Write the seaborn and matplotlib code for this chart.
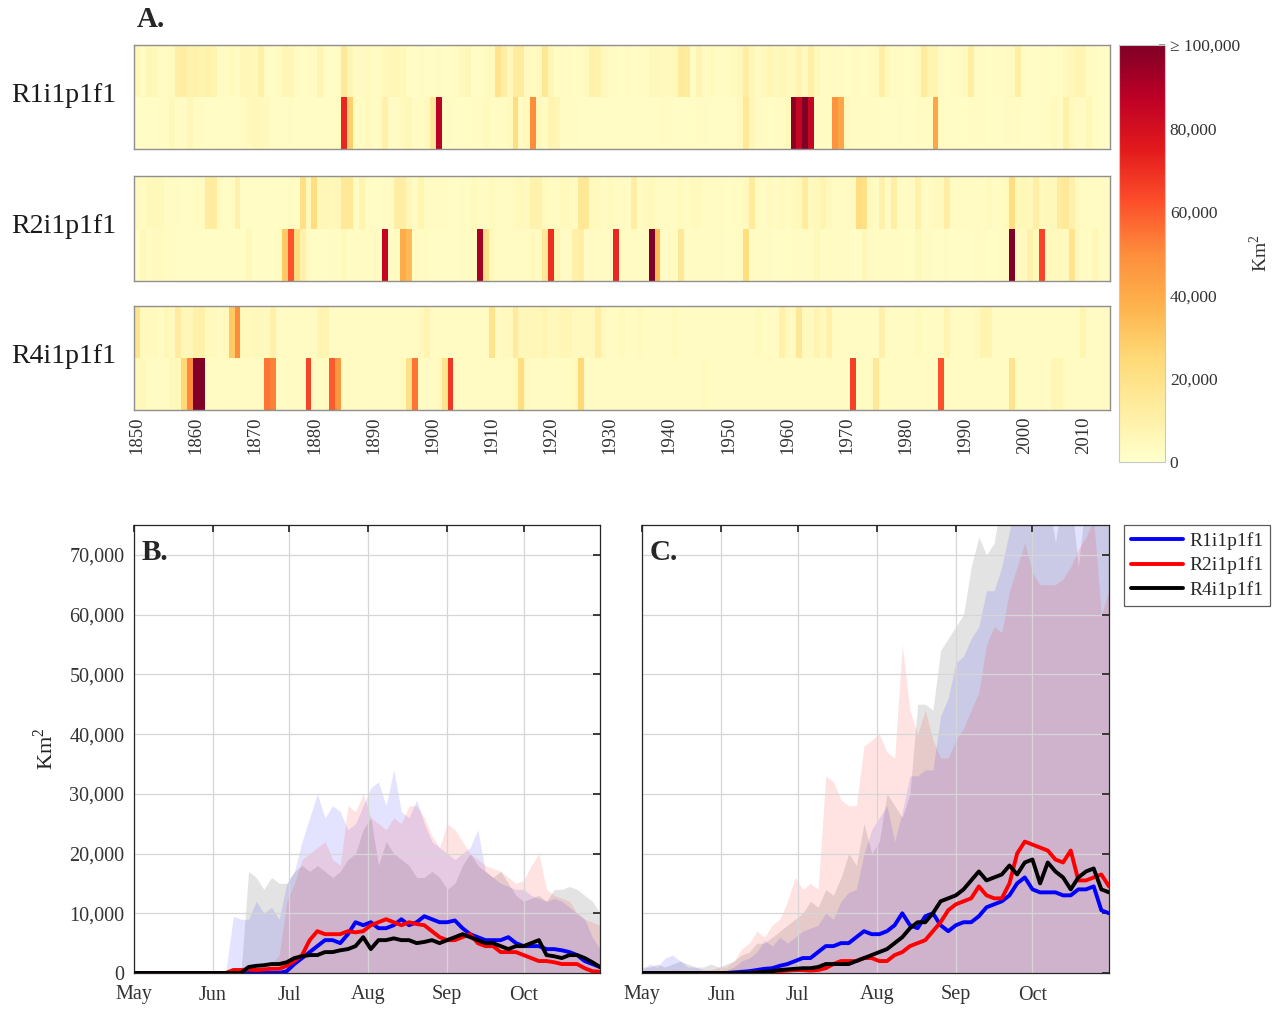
import numpy as np
import pandas as pd
import matplotlib
matplotlib.use("Agg")
import matplotlib.pyplot as plt
from matplotlib.lines import Line2D
from matplotlib.ticker import MultipleLocator
import seaborn as sns

sns.set_theme(style="white")
plt.rcParams["font.family"] = ["Liberation Serif", "DejaVu Serif"]
plt.rcParams["mathtext.fontset"] = "custom"
plt.rcParams["mathtext.rm"] = "Liberation Serif"

runs = ["R1i1p1f1", "R2i1p1f1", "R4i1p1f1"]
run_colors = ["#0000ff", "#ff0000", "#000000"]

# ---------------------------------------------------------------- panel A
years = np.arange(1850, 2015)

# annual burned area per run, thousands of km2 (upper and lower strip)
r1_top = [
    6, 3, 6, 5, 3, 3, 4, 12, 12, 9,
    9, 8, 10, 8, 3, 3, 4, 3, 6, 6,
    5, 10, 3, 2, 3, 7, 6, 3, 2, 3,
    3, 8, 2, 2, 3, 15, 7, 3, 3, 4,
    3, 3, 4, 6, 6, 5, 2, 2, 3, 2,
    2, 3, 2, 2, 3, 5, 6, 2, 2, 3,
    4, 18, 12, 5, 13, 14, 4, 3, 4, 16,
    6, 3, 3, 3, 2, 3, 4, 9, 9, 4,
    3, 3, 2, 3, 2, 3, 3, 5, 5, 4,
    4, 5, 14, 13, 3, 8, 3, 4, 3, 3,
    3, 4, 6, 12, 6, 3, 5, 7, 4, 6,
    4, 4, 8, 4, 12, 5, 3, 3, 3, 3,
    2, 3, 3, 2, 3, 4, 12, 5, 3, 3,
    2, 3, 4, 14, 8, 8, 3, 2, 3, 3,
    4, 12, 3, 3, 2, 3, 3, 3, 4, 12,
    3, 2, 2, 3, 3, 2, 3, 4, 6, 8,
    8, 3, 3, 2, 2,
]
r1_bottom = [
    2, 2, 2, 2, 3, 3, 5, 3, 3, 6,
    3, 3, 2, 2, 2, 2, 2, 2, 3, 4,
    6, 5, 4, 2, 2, 2, 3, 2, 2, 2,
    2, 2, 2, 2, 3, 72, 28, 3, 3, 4,
    3, 3, 10, 3, 3, 4, 6, 3, 3, 4,
    15, 88, 3, 3, 2, 2, 2, 3, 3, 4,
    3, 3, 3, 4, 22, 3, 4, 50, 5, 3,
    8, 7, 3, 3, 3, 2, 2, 2, 2, 2,
    2, 2, 2, 2, 2, 2, 2, 2, 2, 3,
    3, 2, 2, 2, 2, 3, 3, 2, 2, 2,
    2, 2, 4, 15, 6, 3, 3, 2, 3, 3,
    4, 98, 85, 100, 85, 3, 3, 3, 48, 42,
    4, 3, 3, 3, 3, 3, 2, 2, 2, 3,
    2, 2, 3, 3, 3, 42, 3, 2, 2, 2,
    2, 3, 3, 3, 2, 2, 2, 3, 3, 3,
    2, 2, 2, 3, 3, 4, 3, 10, 4, 3,
    3, 6, 3, 2, 2,
]
r2_top = [
    4, 3, 5, 5, 5, 3, 3, 3, 2, 2,
    3, 3, 13, 13, 3, 2, 3, 10, 2, 2,
    2, 2, 2, 2, 2, 2, 3, 2, 20, 5,
    22, 6, 6, 5, 6, 15, 15, 3, 8, 3,
    2, 2, 3, 3, 12, 12, 6, 3, 8, 3,
    3, 3, 3, 2, 2, 3, 3, 4, 3, 3,
    4, 3, 3, 3, 4, 5, 4, 9, 9, 4,
    3, 3, 4, 4, 3, 16, 16, 4, 4, 3,
    4, 3, 3, 3, 12, 3, 4, 5, 3, 3,
    3, 3, 4, 3, 4, 4, 3, 3, 3, 3,
    2, 3, 3, 4, 14, 3, 3, 4, 3, 4,
    3, 4, 5, 13, 4, 5, 8, 4, 3, 3,
    3, 4, 22, 20, 4, 3, 10, 3, 12, 3,
    3, 3, 10, 3, 3, 4, 4, 12, 3, 3,
    3, 3, 3, 3, 4, 3, 3, 4, 22, 5,
    6, 5, 12, 4, 5, 5, 14, 15, 10, 4,
    3, 3, 3, 3, 3,
]
r2_bottom = [
    2, 5, 3, 4, 4, 3, 3, 2, 2, 2,
    2, 2, 2, 2, 2, 2, 2, 2, 2, 5,
    2, 2, 2, 2, 3, 30, 62, 22, 10, 3,
    2, 2, 2, 3, 3, 5, 3, 3, 3, 3,
    3, 3, 85, 3, 3, 40, 35, 3, 3, 3,
    2, 2, 2, 2, 2, 3, 3, 3, 92, 20,
    4, 3, 3, 3, 3, 3, 3, 4, 3, 15,
    70, 8, 3, 3, 10, 12, 3, 3, 3, 3,
    3, 72, 3, 3, 3, 3, 3, 100, 35, 3,
    3, 3, 15, 3, 3, 3, 3, 3, 3, 3,
    2, 2, 3, 22, 3, 3, 3, 3, 2, 2,
    2, 3, 3, 3, 3, 5, 3, 3, 3, 3,
    3, 2, 2, 6, 3, 3, 3, 3, 3, 3,
    2, 2, 5, 3, 3, 2, 2, 3, 2, 2,
    2, 2, 3, 3, 2, 2, 3, 3, 100, 4,
    4, 10, 5, 65, 4, 4, 4, 4, 18, 4,
    3, 3, 6, 3, 3,
]
r4_top = [
    18, 4, 4, 4, 3, 6, 4, 13, 6, 6,
    10, 10, 4, 4, 3, 4, 30, 50, 5, 4,
    5, 5, 4, 10, 3, 3, 3, 3, 3, 3,
    3, 8, 8, 3, 3, 3, 3, 3, 3, 3,
    3, 3, 3, 3, 3, 3, 3, 3, 4, 8,
    3, 3, 3, 3, 3, 3, 3, 3, 3, 3,
    18, 3, 4, 4, 14, 6, 6, 6, 6, 8,
    5, 5, 7, 7, 4, 4, 4, 4, 12, 4,
    3, 3, 4, 3, 3, 4, 3, 3, 3, 3,
    3, 4, 3, 3, 3, 3, 3, 3, 3, 3,
    3, 3, 3, 3, 3, 4, 3, 3, 3, 10,
    4, 3, 16, 4, 4, 8, 4, 10, 3, 3,
    3, 3, 3, 3, 3, 3, 10, 3, 3, 3,
    3, 3, 4, 3, 3, 3, 3, 8, 3, 3,
    3, 3, 4, 8, 8, 3, 3, 3, 3, 3,
    3, 3, 3, 3, 3, 3, 3, 3, 3, 3,
    8, 3, 3, 3, 3,
]
r4_bottom = [
    5, 5, 3, 3, 3, 3, 5, 5, 25, 50,
    100, 100, 3, 3, 3, 3, 3, 3, 3, 3,
    3, 3, 55, 52, 3, 3, 3, 3, 3, 65,
    3, 3, 3, 60, 47, 3, 3, 3, 3, 3,
    3, 3, 3, 3, 3, 4, 20, 55, 3, 3,
    3, 4, 18, 68, 3, 3, 3, 3, 3, 3,
    3, 3, 3, 3, 4, 22, 4, 3, 3, 3,
    3, 3, 3, 3, 4, 25, 3, 3, 3, 3,
    3, 3, 3, 3, 3, 3, 3, 3, 3, 3,
    3, 3, 3, 3, 3, 3, 4, 3, 3, 3,
    3, 3, 3, 3, 3, 3, 3, 3, 3, 3,
    3, 3, 3, 3, 3, 3, 3, 3, 3, 3,
    3, 66, 3, 3, 3, 15, 3, 3, 3, 3,
    3, 3, 3, 3, 3, 3, 62, 3, 3, 3,
    3, 3, 3, 3, 3, 3, 3, 3, 18, 3,
    3, 3, 3, 3, 3, 7, 7, 3, 3, 3,
    3, 3, 3, 3, 3,
]

# ------------------------------------------------------- panels B and C
# values every third day from 1 May (day 0) to 31 Oct (day 183), km2
month_starts = [0, 31, 61, 92, 123, 153]
month_names = ["May", "Jun", "Jul", "Aug", "Sep", "Oct"]

b_r1_line = [
    0, 0, 0, 0, 0, 0, 0, 0, 0, 0,
    0, 0, 0, 0, 0, 0, 0, 0, 0, 0,
    300, 1500, 2500, 3500, 4500, 5500, 5500, 5000, 6500, 8500,
    8000, 8500, 7500, 7500, 8000, 9000, 8000, 8500, 9500, 9000,
    8500, 8500, 8800, 7500, 6500, 6000, 5500, 5500, 5500, 6000,
    5000, 4500, 4500, 4500, 4000, 4000, 3800, 3500, 3000, 2000,
    1500, 1000,
]
b_r2_line = [
    0, 0, 0, 0, 0, 0, 0, 0, 0, 0,
    0, 0, 0, 500, 500, 600, 500, 600, 700, 700,
    1200, 2000, 3000, 5500, 7000, 6500, 6500, 6500, 7000, 6800,
    7000, 8000, 8500, 9000, 8500, 8000, 8500, 8200, 8000, 7000,
    6000, 5500, 5500, 6000, 6500, 5000, 4500, 4500, 3500, 3500,
    3500, 3000, 2500, 2000, 2000, 1800, 1500, 1500, 1500, 800,
    300, 200,
]
b_r4_line = [
    0, 0, 0, 0, 0, 0, 0, 0, 0, 0,
    0, 0, 0, 0, 0, 1000, 1200, 1300, 1500, 1500,
    1800, 2500, 2800, 3000, 3000, 3500, 3500, 3800, 4000, 4500,
    6000, 4000, 5500, 5500, 5800, 5500, 5500, 5000, 5200, 5500,
    5000, 5500, 6000, 6500, 6000, 5500, 5000, 5000, 4500, 4000,
    4500, 4500, 5000, 5500, 3000, 2800, 2500, 3000, 3000, 2500,
    1800, 1000,
]
b_r1_upper = [
    0, 0, 0, 0, 0, 0, 0, 0, 0, 0,
    0, 0, 0, 9500, 9000, 9000, 12000, 10000, 11000, 9000,
    15000, 17000, 22000, 26000, 30000, 26000, 28000, 27000, 24000, 25000,
    28000, 31000, 32000, 28000, 34000, 27000, 26000, 29000, 25000, 22000,
    21000, 20000, 19000, 20000, 21000, 24000, 17000, 16000, 15000, 14500,
    14000, 14000, 13000, 12500, 12000, 12500, 12000, 11000, 10000, 9000,
    6000, 4000,
]
b_r2_upper = [
    0, 0, 0, 0, 0, 0, 0, 0, 0, 0,
    0, 0, 0, 500, 600, 800, 800, 1000, 1500, 3000,
    12000, 15000, 19000, 20000, 21000, 22000, 19000, 18000, 28000, 27000,
    30000, 26000, 25000, 24000, 26000, 25000, 28000, 28000, 26000, 23000,
    21000, 25000, 24000, 22000, 20000, 19000, 18000, 17500, 17000, 16000,
    15000, 15500, 18000, 20000, 14000, 13000, 12500, 12000, 10000, 9000,
    8500, 8000,
]
b_r4_upper = [
    0, 0, 0, 0, 0, 0, 0, 0, 0, 0,
    0, 0, 0, 0, 0, 17000, 16000, 14000, 16000, 15000,
    15000, 17000, 18000, 17000, 18000, 17000, 16000, 17000, 19000, 20000,
    24000, 26000, 18000, 22000, 20000, 19000, 18000, 16000, 16000, 17000,
    16000, 14000, 15000, 18000, 20000, 18000, 17000, 16000, 17000, 15000,
    13000, 12000, 12500, 13000, 12000, 14000, 14000, 14500, 14000, 13000,
    12000, 10000,
]

c_r1_line = [
    0, 0, 0, 0, 0, 0, 0, 0, 0, 0,
    0, 0, 100, 200, 300, 500, 700, 800, 1200, 1500,
    2000, 2500, 2500, 3500, 4500, 4500, 5000, 5000, 6000, 7000,
    6500, 6500, 7000, 8000, 10000, 8000, 7500, 9500, 10000, 8000,
    7000, 8000, 8500, 8500, 9500, 11000, 11500, 12000, 13000, 15000,
    16000, 14000, 13500, 13500, 13500, 13000, 13000, 14000, 14000, 14500,
    10500, 10000,
]
c_r2_line = [
    0, 0, 0, 0, 0, 0, 0, 0, 0, 0,
    0, 0, 0, 0, 0, 100, 200, 200, 300, 400,
    500, 500, 400, 500, 800, 1500, 2000, 2000, 2000, 2500,
    2500, 2000, 2000, 3000, 3500, 4500, 5000, 5500, 7000, 8500,
    10500, 11500, 12000, 12500, 14500, 13000, 12500, 12500, 15000, 20000,
    22000, 21500, 21000, 20500, 19000, 18500, 20500, 15500, 15500, 16000,
    16500, 14500,
]
c_r4_line = [
    0, 0, 0, 0, 0, 0, 0, 0, 0, 0,
    0, 0, 0, 0, 0, 100, 200, 300, 500, 600,
    700, 800, 800, 1000, 1500, 1500, 1500, 1500, 2000, 2500,
    3000, 3500, 4000, 5000, 6000, 7500, 8500, 8500, 10000, 12000,
    12500, 13000, 14000, 15500, 17000, 15500, 16000, 16500, 18000, 16500,
    18500, 19000, 15000, 18500, 17000, 16000, 14000, 16000, 17000, 17500,
    14000, 13500,
]
c_r1_upper = [
    500, 1500, 1000, 2500, 3000, 2000, 1000, 1000, 500, 500,
    500, 500, 1000, 2000, 2500, 3500, 5500, 4500, 6000, 5000,
    6000, 7000, 7500, 8000, 10000, 9000, 12000, 13500, 14000, 20000,
    24000, 26000, 28000, 22000, 27000, 33000, 33000, 34000, 34000, 43000,
    46000, 52000, 53000, 56000, 58000, 64000, 64000, 68000, 74000, 80000,
    80000, 80000, 80000, 80000, 80000, 80000, 80000, 80000, 80000, 80000,
    80000, 80000,
]
c_r2_upper = [
    0, 0, 0, 0, 500, 500, 0, 500, 500, 500,
    1000, 1000, 2000, 4000, 5000, 7000, 6000, 8000, 9000, 12000,
    16000, 14000, 15000, 14000, 33000, 32000, 29000, 28000, 28000, 38000,
    39000, 40000, 37000, 36000, 55000, 44000, 40000, 44000, 39000, 36000,
    36000, 39000, 41000, 44000, 47000, 55000, 58000, 57000, 64000, 68000,
    72000, 67000, 65000, 65000, 65000, 66000, 68000, 71000, 73000, 76000,
    60000, 64000,
]
c_r4_upper = [
    1000, 1000, 1500, 1000, 1500, 2000, 1500, 1000, 1000, 1500,
    1000, 1500, 2000, 3000, 3500, 5000, 5000, 6000, 7000, 8000,
    9000, 10000, 12000, 11000, 14000, 13000, 16000, 20000, 18000, 25000,
    20000, 22000, 30000, 28000, 26000, 30000, 45000, 45000, 44000, 54000,
    56000, 58000, 60000, 68000, 73000, 70000, 72000, 80000, 80000, 80000,
    80000, 80000, 80000, 80000, 72000, 80000, 80000, 68000, 80000, 80000,
    80000, 80000,
]

# ---------------------------------------------------------------- layout
W, H = 1279, 1009


def box(x0, y0, x1, y1):
    return [x0 / W, 1 - y1 / H, (x1 - x0) / W, (y1 - y0) / H]


fig = plt.figure(figsize=(W / 100, H / 100), dpi=100)
ink = "#262626"

# heatmap strips
cax = fig.add_axes(box(1119, 45, 1165, 462))
strip_boxes = [(45, 149), (176, 281), (306, 410)]
strips = [(r1_top, r1_bottom), (r2_top, r2_bottom), (r4_top, r4_bottom)]
heat_axes = []
for i, (run, (top, bottom), (y0, y1)) in enumerate(zip(runs, strips, strip_boxes)):
    ax = fig.add_axes(box(134, y0, 1110, y1))
    grid = pd.DataFrame(np.array([top, bottom], dtype=float) * 1000,
                        columns=years, index=["top", "bottom"])
    sns.heatmap(grid, ax=ax, cmap="YlOrRd", vmin=0, vmax=100000,
                cbar=(i == 0), cbar_ax=cax if i == 0 else None,
                xticklabels=False, yticklabels=False)
    for s in ax.spines.values():
        s.set_visible(True)
        s.set_color("#8f8f8f")
        s.set_linewidth(1.0)
    fig.text(64 / W, 1 - ((y0 + y1) / 2 - 2) / H, run, ha="center", va="center",
             fontsize=20, color="#1a1a1a")
    heat_axes.append(ax)

ax_last = heat_axes[-1]
ax_last.set_xticks(np.arange(0, len(years), 10) + 0.5)
ax_last.set_xticklabels([str(y) for y in years[::10]], rotation=90,
                        fontsize=13.5, color="#333333")
ax_last.tick_params(axis="x", length=0, pad=5)

cbar = heat_axes[0].collections[0].colorbar
cbar.set_ticks([0, 20000, 40000, 60000, 80000, 100000])
cbar.set_ticklabels(["0", "20,000", "40,000", "60,000", "80,000", "\u2265 100,000"])
cax.yaxis.set_minor_locator(MultipleLocator(10000))
cax.tick_params(which="both", direction="in", length=4, color="#8a8a8a",
                labelsize=12.5, labelcolor="#333333", right=True)
cbar.outline.set_edgecolor("#c8c8c8")
cbar.outline.set_linewidth(0.8)
cax.set_ylabel(r"Km$^{\mathregular{2}}$", fontsize=14, color="#333333", labelpad=6)

fig.text(137 / W, 1 - 6 / H, "A.", fontsize=21, fontweight="bold", va="top", ha="left")

# daily panels
days = 3 * np.arange(len(b_r1_line))
ax_b = fig.add_axes(box(134, 525, 600, 973))
ax_c = fig.add_axes(box(642, 525, 1109, 973))

panel_data = [
    (ax_b, "B.", [b_r1_line, b_r2_line, b_r4_line], [b_r1_upper, b_r2_upper, b_r4_upper]),
    (ax_c, "C.", [c_r1_line, c_r2_line, c_r4_line], [c_r1_upper, c_r2_upper, c_r4_upper]),
]
for ax, tag, lines, uppers in panel_data:
    for k in [2, 0, 1]:
        ax.fill_between(days, 0, uppers[k], color=run_colors[k], alpha=0.11,
                        linewidth=0, zorder=1)
    for k in [0, 1, 2]:
        sns.lineplot(x=days, y=lines[k], ax=ax, color=run_colors[k], lw=2.8,
                     legend=False, zorder=3)
    ax.set_xlim(0, 183)
    ax.set_ylim(0, 75000)
    ax.set_xticks(month_starts)
    ax.set_xticklabels(month_names)
    ax.set_yticks(np.arange(0, 70001, 10000))
    ax.set_axisbelow("line")
    ax.grid(True, color="#d6d6d6", lw=0.9)
    ax.tick_params(direction="in", length=5, top=True, right=True,
                   color=ink, labelsize=14.5, labelcolor="#333333")
    ax.tick_params(axis="x", pad=9)
    ax.tick_params(axis="y", pad=7)
    for s in ax.spines.values():
        s.set_color(ink)
        s.set_linewidth(0.9)
    ax.set_xlabel("")
    ax.set_ylabel("")
    ax.text(0.017, 0.968, tag, transform=ax.transAxes, fontsize=21,
            fontweight="bold", va="top", ha="left")

ax_b.set_yticklabels([f"{v:,}" for v in range(0, 70001, 10000)])
ax_c.set_yticklabels([])
ax_b.set_ylabel(r"Km$^{\mathregular{2}}$", fontsize=16, color="#222222", labelpad=8)

handles = [Line2D([], [], color=c, lw=2.8) for c in run_colors]
leg = fig.legend(handles, runs, loc="upper left",
                 bbox_to_anchor=(1124 / W, 1 - 525 / H), frameon=True,
                 fancybox=False, edgecolor="#333333", fontsize=14,
                 handlelength=2.7, borderpad=0.35, labelspacing=0.35,
                 handletextpad=0.3, borderaxespad=0)
leg.get_frame().set_linewidth(0.9)

fig.savefig("out.png", dpi=100, facecolor="white")
